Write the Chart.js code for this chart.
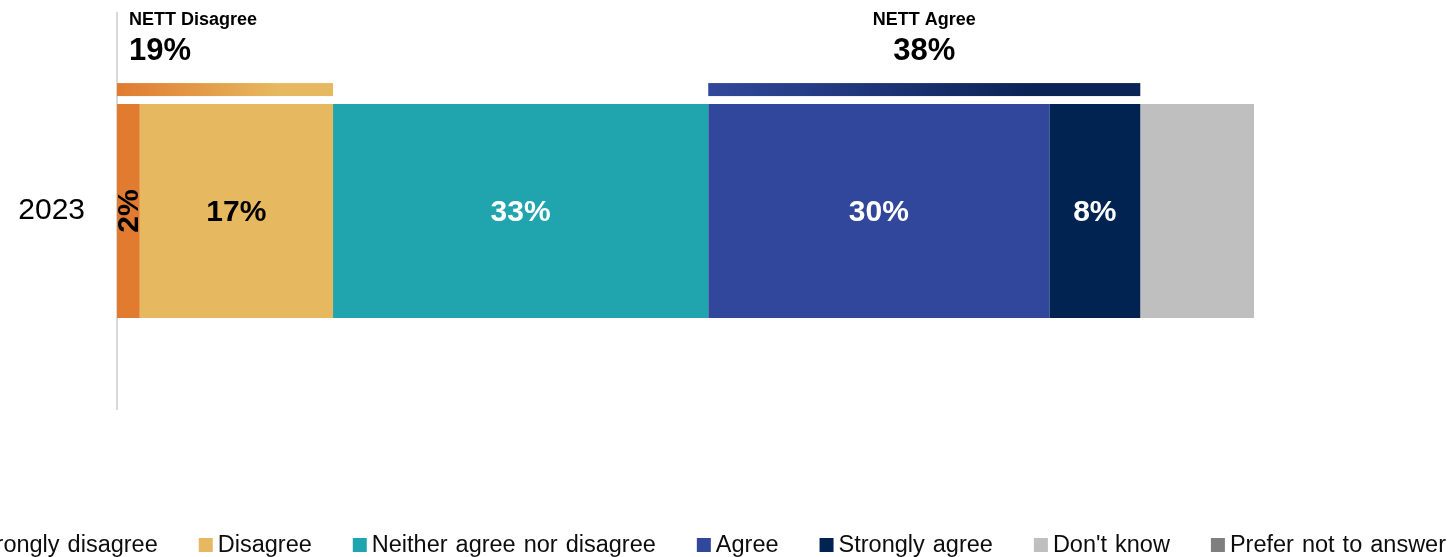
<!DOCTYPE html>
<html>
<head>
<meta charset="utf-8">
<script src="https://cdn.jsdelivr.net/npm/chart.js@4.4.1/dist/chart.umd.min.js"></script>
<style>
  html, body { margin: 0; padding: 0; background: #fff; }
  #wrap { width: 1450px; height: 557px; position: relative; }
</style>
</head>
<body>
<div id="wrap"><canvas id="myChart"></canvas></div>
<script>
const categories = ['2023'];
const seriesNames = ['Strongly disagree', 'Disagree', 'Neither agree nor disagree', 'Agree', 'Strongly agree', "Don't know", 'Prefer not to answer'];
const stronglyDisagree = [2];
const disagree = [17];
const neither = [33];
const agree = [30];
const stronglyAgree = [8];
const dontKnow = [10];
const preferNot = [0];
const seriesColors = ['#E07B30', '#E6B960', '#20A4AE', '#31479B', '#002352', '#BFBFBF', '#7F7F7F'];
// colour of the value label in each segment, null = no label
const labelColors = ['#000', '#000', '#fff', '#fff', '#fff', null, null];

// NETT groups: first and last series index that they cover
const nettGroups = [
  { name: 'NETT Disagree', from: 0, to: 1, align: 'left', colors: ['#E07B30', '#E6B960'] },
  { name: 'NETT Agree', from: 3, to: 4, align: 'center', colors: ['#31479B', '#0A2456'] }
];

const FONT = "'Liberation Sans', Arial, sans-serif";
Chart.defaults.font.family = FONT;

const allSeries = [stronglyDisagree, disagree, neither, agree, stronglyAgree, dontKnow, preferNot];

const valueLabels = {
  id: 'valueLabels',
  afterDatasetsDraw(chart) {
    const c = chart.ctx;
    c.save();
    c.font = 'bold 30px ' + FONT;
    c.textAlign = 'center';
    c.textBaseline = 'middle';
    chart.data.datasets.forEach((ds, i) => {
      if (!labelColors[i]) return;
      chart.getDatasetMeta(i).data.forEach((el, j) => {
        const v = ds.data[j];
        if (!v) return;
        const txt = v + '%';
        const cx = (el.x + el.base) / 2;
        const w = Math.abs(el.x - el.base);
        c.fillStyle = labelColors[i];
        if (c.measureText(txt).width + 4 > w) {
          c.save();
          c.translate(cx, el.y);
          c.rotate(-Math.PI / 2);
          c.fillText(txt, 0, 1);
          c.restore();
        } else {
          c.fillText(txt, cx, el.y + 2);
        }
      });
    });
    c.restore();
  }
};

const nettBars = {
  id: 'nettBars',
  afterDraw(chart) {
    const c = chart.ctx;
    const xs = chart.scales.x;
    const el = chart.getDatasetMeta(0).data[0];
    const barTop = el.y - el.height / 2;
    nettGroups.forEach(g => {
      let before = 0, total = 0;
      for (let i = 0; i < g.from; i++) before += allSeries[i][0];
      for (let i = g.from; i <= g.to; i++) total += allSeries[i][0];
      const x0 = xs.getPixelForValue(before);
      const x1 = xs.getPixelForValue(before + total);
      const grad = c.createLinearGradient(x0, 0, x1, 0);
      grad.addColorStop(0, g.colors[0]);
      grad.addColorStop(0.75, g.colors[1]);
      grad.addColorStop(1, g.colors[1]);
      c.save();
      c.fillStyle = grad;
      c.fillRect(x0, barTop - 21, x1 - x0, 13);
      c.fillStyle = '#000';
      c.textBaseline = 'alphabetic';
      let tx;
      if (g.align === 'left') { c.textAlign = 'left'; tx = x0 + 12; }
      else { c.textAlign = 'center'; tx = (x0 + x1) / 2; }
      c.font = 'bold 18px ' + FONT;
      c.fillText(g.name, tx, barTop - 79);
      c.font = 'bold 31px ' + FONT;
      c.fillText(total + '%', tx, barTop - 44);
      c.restore();
    });
  }
};

const bottomLegend = {
  id: 'bottomLegend',
  afterDraw(chart) {
    const c = chart.ctx;
    c.save();
    c.font = '23.5px ' + FONT;
    c.wordSpacing = '1.5px';
    const box = 14, gapText = 5, gapItem = 41;
    const widths = seriesNames.map(n => box + gapText + c.measureText(n).width);
    const total = widths.reduce((a, b) => a + b, 0) + gapItem * (widths.length - 1);
    let x = 1446 - total;
    const base = 552;
    c.textAlign = 'left';
    c.textBaseline = 'alphabetic';
    seriesNames.forEach((n, i) => {
      c.fillStyle = seriesColors[i];
      c.fillRect(x, base - box, box, box);
      c.fillStyle = '#0d0d0d';
      c.fillText(n, x + box + gapText, base);
      x += widths[i] + gapItem;
    });
    c.restore();
  }
};

const ctx = document.getElementById('myChart');

const myChart = new Chart(ctx, {
  type: 'bar',
  data: {
    labels: categories,
    datasets: seriesNames.map((name, i) => ({
      label: name,
      data: allSeries[i],
      backgroundColor: seriesColors[i],
      borderWidth: 0,
      barPercentage: 0.54,
      categoryPercentage: 1
    }))
  },
  options: {
    indexAxis: 'y',
    responsive: true,
    maintainAspectRatio: false,
    animation: false,
    layout: { padding: { top: 13, bottom: 148, left: 0, right: 196 } },
    plugins: {
      legend: { display: false },
      tooltip: { enabled: false }
    },
    scales: {
      x: {
        stacked: true,
        min: 0,
        max: 100,
        display: false
      },
      y: {
        stacked: true,
        grid: { display: false, drawTicks: false },
        border: { display: true, color: '#d9d9d9', width: 2 },
        ticks: { color: '#000', font: { size: 30 }, padding: 32 },
        afterFit: s => { s.width = 117; s.paddingTop = 0; s.paddingBottom = 0; }
      }
    }
  },
  plugins: [valueLabels, nettBars, bottomLegend]
});
</script>
</body>
</html>
